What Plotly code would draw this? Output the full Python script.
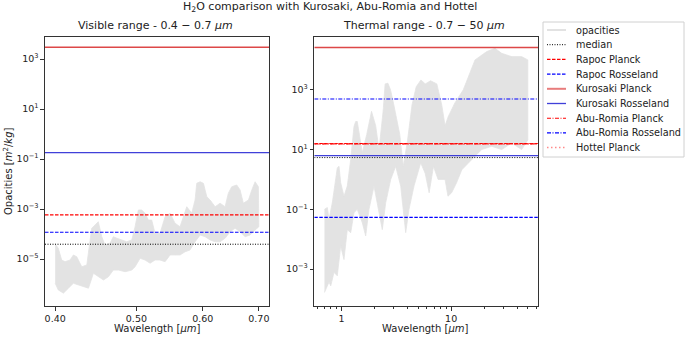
import plotly.graph_objects as go

W, H = 685, 338
FONT = "DejaVu Sans"

# ---------------- data ----------------
# Visible range (0.4-0.7 um): upper / lower envelope of the opacity spectrum [m^2/kg]
vis_up_wl = [0.400, 0.4034, 0.4072, 0.4110, 0.4167, 0.4205, 0.4244, 0.4303, 0.4363, 0.4402,
             0.4422, 0.4463, 0.4503, 0.4546, 0.4587, 0.4651, 0.4693, 0.4738, 0.4802, 0.4869,
             0.4937, 0.4982, 0.5027, 0.5073, 0.5120, 0.5167, 0.5215, 0.5263, 0.5335, 0.5410,
             0.5485, 0.5560, 0.5637, 0.5689, 0.5742, 0.5821, 0.5875, 0.5902, 0.5957, 0.6011,
             0.6067, 0.6122, 0.6207, 0.6292, 0.6380, 0.6437, 0.6498, 0.6587, 0.6648, 0.6708,
             0.6803, 0.6866, 0.6928, 0.6991, 0.700]
vis_up_k = [4.0e-5, 2.7e-5, 9.1e-6, 7.8e-6, 9.1e-6, 1.45e-5, 1.23e-5, 4.9e-6, 5.8e-6, 4.3e-5,
            1.7e-4, 2.3e-4, 3.1e-4, 7.8e-5, 3.6e-5, 4.3e-5, 7.8e-5, 6.8e-5, 5.8e-5, 4.9e-5,
            5.8e-5, 1.95e-4, 9.1e-4, 9.1e-4, 6.8e-4, 3.6e-4, 3.6e-4, 1.07e-4, 1.07e-4, 4.9e-4,
            6.8e-4, 2.7e-4, 1.95e-4, 4.9e-4, 1.23e-3, 6.8e-4, 2.3e-3, 1.07e-2, 1.23e-2, 1.07e-2,
            3.1e-3, 2.3e-3, 1.23e-3, 1.7e-3, 1.23e-3, 4.3e-3, 7.8e-3, 9.1e-3, 5.8e-3, 1.7e-3,
            2.3e-3, 5.8e-3, 1.23e-2, 7.8e-3, 9.1e-4]
vis_lo_wl = [0.400, 0.4034, 0.4091, 0.4148, 0.4205, 0.4264, 0.4322, 0.4383, 0.4443, 0.4503,
             0.4567, 0.4630, 0.4693, 0.4760, 0.4847, 0.4937, 0.4982, 0.5051, 0.5120, 0.5191,
             0.5263, 0.5335, 0.5410, 0.5485, 0.5560, 0.5637, 0.5716, 0.5794, 0.5875, 0.5957,
             0.6039, 0.6122, 0.6207, 0.6292, 0.6380, 0.6469, 0.6557, 0.6648, 0.6741, 0.6833,
             0.6928, 0.700]
vis_lo_k = [1.07e-6, 5.8e-7, 4.3e-7, 6.8e-7, 1.07e-6, 9.1e-7, 7.8e-7, 6.8e-7, 2.7e-6, 1.95e-6,
            1.45e-6, 1.95e-6, 3.6e-6, 3.6e-6, 3.1e-6, 3.6e-6, 4.9e-6, 1.07e-5, 9.1e-6, 6.8e-6,
            9.1e-6, 9.1e-6, 7.8e-6, 1.45e-5, 1.45e-5, 1.45e-5, 1.95e-5, 2.3e-5, 4.9e-5, 9.1e-5,
            7.8e-5, 5.8e-5, 4.9e-5, 4.9e-5, 6.8e-5, 1.23e-4, 1.7e-4, 1.23e-4, 7.8e-5, 9.1e-5,
            1.45e-4, 1.95e-4]

# Thermal range (0.7-50 um): upper / lower envelope of the opacity spectrum [m^2/kg]
th_up_wl = [0.70, 0.743, 0.770, 0.825, 0.916, 0.950, 0.984, 1.054, 1.130, 1.214,
            1.301, 1.348, 1.394, 1.548, 1.70, 1.88, 2.05, 2.20, 2.40, 2.50,
            2.65, 2.80, 3.00, 3.40, 3.66, 4.00, 4.40, 4.80, 5.30, 5.80,
            6.50, 7.40, 8.20, 8.80, 9.40, 10.8, 12.9, 16.5, 21.1, 25.1,
            28.9, 35.6, 43.9, 50.0]
th_up_k = [0.10, 0.115, 0.047, 0.166, 2.45, 2.75, 0.78, 0.275, 0.60, 4.7,
           60, 87, 87, 7.9, 32, 190, 63, 10, 200, 1580,
           1660, 1000, 316, 32, 2.75, 20, 316, 1260, 2140, 1580,
           2000, 1580, 316, 63, 126, 363, 1000, 1.0e4, 1.9e4, 2.45e4,
           1.66e4, 1.29e4, 1.29e4, 1.0e4]
th_lo_wl = [0.70, 0.770, 0.798, 0.855, 0.916, 0.984, 1.054, 1.130, 1.214, 1.301,
            1.394, 1.548, 1.663, 1.782, 1.980, 2.198, 2.356, 2.530, 2.810, 3.121,
            3.467, 3.850, 4.127, 4.583, 5.276, 5.80, 6.30, 6.90, 7.60, 8.80,
            9.35, 10.1, 11.2, 12.5, 14.3, 16.5, 19.0, 23.4, 28.9, 35.6,
            43.9, 50.0]
th_lo_k = [1.66e-4, 3.7e-4, 2.75e-4, 7.8e-4, 6.0e-4, 6.0e-3, 2.1e-3, 0.021, 0.0166, 0.078,
           0.10, 0.036, 0.0129, 0.10, 0.60, 0.078, 0.021, 0.166, 1.0, 2.75,
           0.60, 0.0166, 0.10, 0.60, 3.6, 1.6, 0.36, 2.75, 1.0, 1.0,
           0.275, 0.36, 0.78, 2.1, 3.6, 6.0, 10, 12.9, 10, 16.6,
           10, 21]

# Mean opacities shown as horizontal reference lines [m^2/kg]
vis_line_names = ["median", "Rapoc Planck", "Rapoc Rosseland", "Kurosaki Planck", "Kurosaki Rosseland"]
vis_line_values = [3.9e-5, 5.8e-4, 1.17e-4, 2950, 0.18]
th_line_names = ["median", "Rapoc Planck", "Rapoc Rosseland", "Kurosaki Planck", "Kurosaki Rosseland",
                 "Abu-Romia Planck", "Abu-Romia Rosseland", "Hottel Planck"]
th_line_values = [5.4, 16.0, 0.054, 2.6e4, 6.3, 15.5, 490, 15.0]

legend_names = ["opacities", "median", "Rapoc Planck", "Rapoc Rosseland", "Kurosaki Planck",
                "Kurosaki Rosseland", "Abu-Romia Planck", "Abu-Romia Rosseland", "Hottel Planck"]

# tick labels
vis_xticks = [0.4, 0.5, 0.6, 0.7]
vis_xticktext = ["0.40", "0.50", "0.60", "0.70"]
vis_yticks = [1e3, 1e1, 1e-1, 1e-3, 1e-5]
vis_yticktext = ["10<sup>3</sup>", "10<sup>1</sup>", "10<sup>\u22121</sup>", "10<sup>\u22123</sup>", "10<sup>\u22125</sup>"]
th_xticks = [1, 10]
th_xticktext = ["1", "10"]
th_xminor = [0.6, 0.7, 0.8, 0.9, 2, 3, 4, 5, 6, 7, 8, 9, 20, 30, 40, 50, 60]
th_yticks = [1e3, 1e1, 1e-1, 1e-3]
th_yticktext = ["10<sup>3</sup>", "10<sup>1</sup>", "10<sup>\u22121</sup>", "10<sup>\u22123</sup>"]

# axis ranges (log10 units)
vis_xrange = [-0.4101, -0.1428]
vis_yrange = [-6.88, 3.88]
th_xrange = [-0.2477, 1.7917]
th_yrange = [-4.233, 4.767]

# ---------------- styles ----------------
DASH = "3.5px,1.5px"
DOT = "1px,1.5px"
DASHDOT = "4px,1.5px,1px,1.5px"
style = {
    "opacities": dict(color="#e2e2e2", width=2.5, dash="solid"),
    "median": dict(color="black", width=1, dash=DOT),
    "Rapoc Planck": dict(color="red", width=1.1, dash=DASH),
    "Rapoc Rosseland": dict(color="blue", width=1.1, dash=DASH),
    "Kurosaki Planck": dict(color="rgba(215,40,40,0.85)", width=1.3, dash="solid"),
    "Kurosaki Rosseland": dict(color="rgba(30,30,210,0.85)", width=1.3, dash="solid"),
    "Abu-Romia Planck": dict(color="red", width=1.1, dash=DASHDOT),
    "Abu-Romia Rosseland": dict(color="blue", width=1.1, dash=DASHDOT),
    "Hottel Planck": dict(color="rgba(255,60,60,0.6)", width=1.5, dash="1.5px,2.5px"),
}
legend_swatch = {"opacities": dict(width=2), "Kurosaki Planck": dict(color="rgba(230,110,110,0.9)", width=2)}

fig = go.Figure()

# spectra as filled bands
fig.add_trace(go.Scatter(x=vis_up_wl + vis_lo_wl[::-1], y=vis_up_k + vis_lo_k[::-1],
                         fill="toself", fillcolor="#e3e3e3", mode="lines",
                         line=dict(color="#e3e3e3", width=0.8), showlegend=False,
                         xaxis="x", yaxis="y", hoverinfo="skip"))
fig.add_trace(go.Scatter(x=th_up_wl + th_lo_wl[::-1], y=th_up_k + th_lo_k[::-1],
                         fill="toself", fillcolor="#e3e3e3", mode="lines",
                         line=dict(color="#e3e3e3", width=0.8), showlegend=False,
                         xaxis="x2", yaxis="y2", hoverinfo="skip"))

vis_xspan = [10 ** vis_xrange[0], 10 ** vis_xrange[1]]
th_xspan = [10 ** th_xrange[0], 10 ** th_xrange[1]]

for name, val in zip(vis_line_names, vis_line_values):
    s = style[name]
    fig.add_trace(go.Scatter(x=vis_xspan, y=[val, val], mode="lines", name=name,
                             line=dict(color=s["color"], width=s["width"], dash=s["dash"]),
                             showlegend=False, xaxis="x", yaxis="y", hoverinfo="skip"))
for name, val in zip(th_line_names, th_line_values):
    s = style[name]
    fig.add_trace(go.Scatter(x=th_xspan, y=[val, val], mode="lines", name=name,
                             line=dict(color=s["color"], width=s["width"], dash=s["dash"]),
                             showlegend=False, xaxis="x2", yaxis="y2", hoverinfo="skip"))

# ---------------- layout ----------------
def px_x(p):
    return p / W

def px_y(p):
    return 1 - p / H

ydom = [px_y(306), px_y(37)]
axis_common = dict(type="log", showline=True, mirror=True, linecolor="#333", linewidth=1.2,
                   showgrid=False, zeroline=False, ticks="outside", ticklen=3.5, tickcolor="#333",
                   tickfont=dict(family=FONT, size=9.5, color="#222"), automargin=False)

fig.update_layout(
    width=W, height=H, margin=dict(l=0, r=0, t=0, b=0),
    paper_bgcolor="white", plot_bgcolor="white", showlegend=False, hovermode=False,
    xaxis=dict(axis_common, domain=[px_x(45), px_x(269)], range=vis_xrange,
               tickmode="array", tickvals=vis_xticks, ticktext=vis_xticktext, anchor="y"),
    yaxis=dict(axis_common, domain=ydom, range=vis_yrange,
               tickmode="array", tickvals=vis_yticks, ticktext=vis_yticktext, anchor="x"),
    xaxis2=dict(axis_common, domain=[px_x(314.3), px_x(538)], range=th_xrange,
                tickmode="array", tickvals=th_xticks, ticktext=th_xticktext, anchor="y2",
                minor=dict(tickmode="array", tickvals=th_xminor, ticks="outside", ticklen=2,
                           tickcolor="#333", showgrid=False)),
    yaxis2=dict(axis_common, domain=ydom, range=th_yrange,
                tickmode="array", tickvals=th_yticks, ticktext=th_yticktext, anchor="x2"),
)

ann = []
ann.append(dict(text="H<sub>2</sub>O comparison with Kurosaki, Abu-Romia and Hottel",
                x=px_x(330), y=px_y(7), font=dict(size=11)))
ann.append(dict(text="Visible range - 0.4 \u2212 0.7 <i>\u03bcm</i>",
                x=px_x(155), y=px_y(26), font=dict(size=11)))
ann.append(dict(text="Thermal range - 0.7 \u2212 50 <i>\u03bcm</i>",
                x=px_x(424), y=px_y(26), font=dict(size=11)))
ann.append(dict(text="Wavelength [<i>\u03bcm</i>]", x=px_x(157), y=px_y(328), font=dict(size=10)))
ann.append(dict(text="Wavelength [<i>\u03bcm</i>]", x=px_x(426), y=px_y(328), font=dict(size=10)))
ann.append(dict(text="Opacities [<i>m</i><sup>2</sup>/<i>kg</i>]", x=px_x(8), y=px_y(171),
                textangle=-90, font=dict(size=10)))

# legend (drawn as layout items so its compact spacing matches)
shapes = [dict(type="rect", xref="paper", yref="paper", x0=px_x(543), x1=px_x(684),
               y0=px_y(157), y1=px_y(22), line=dict(color="#d0d0d0", width=1),
               fillcolor="rgba(255,255,255,0.8)", layer="above")]
for i, name in enumerate(legend_names):
    yc = 30 + i * 14.7
    s = dict(style[name])
    s.update(legend_swatch.get(name, {}))
    shapes.append(dict(type="line", xref="paper", yref="paper", x0=px_x(547), x1=px_x(566),
                       y0=px_y(yc), y1=px_y(yc), layer="above",
                       line=dict(color=s["color"], width=s["width"], dash=s["dash"])))
    ann.append(dict(text=name, x=px_x(574), y=px_y(yc), xanchor="left", font=dict(size=9.7)))

for a in ann:
    a.setdefault("xanchor", "center")
    a.update(xref="paper", yref="paper", yanchor="middle", showarrow=False)
    a["font"] = dict(family=FONT, color="#222", **a["font"])

fig.update_layout(annotations=ann, shapes=shapes)

fig.write_html("out.html", config={"displayModeBar": False},
               post_script="document.body.style.margin='0px';")
